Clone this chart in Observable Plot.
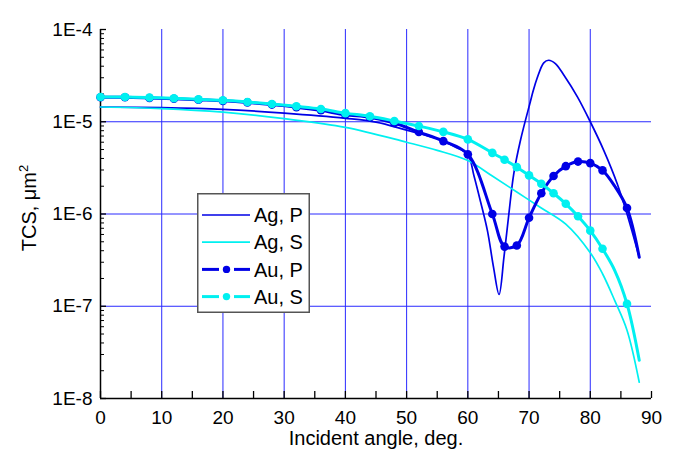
<!DOCTYPE html>
<html><head><meta charset="utf-8">
<script src="https://cdn.jsdelivr.net/npm/d3@7"></script>
<script src="https://cdn.jsdelivr.net/npm/@observablehq/plot@0.6"></script>
<style>
body{margin:0;background:#fff;}
#wrap{position:relative;width:675px;height:455px;font-family:"Liberation Sans",Arial,sans-serif;}
#legend{position:absolute;left:197px;top:193px;}
</style></head><body><div id="wrap"><div id="legend"></div></div>
<script>
// ---- data ----
const agPAngle = [0,10,20,30,40,45,50,55,58,60,61,62.1,63.2,64.2,65.1,65.9,66.7,67.5,68.6,70.2,70.7,71.3,72.4,73.2,74.3,75.7,77.9,80,82.2,84.4,86,88];
const agPTcs   = [1.445e-5,1.42e-5,1.36e-5,1.24e-5,1.09e-5,9.9e-6,8.1e-6,6.55e-6,5.3e-6,4.4e-6,2.6e-6,1.34e-6,6.6e-7,2.64e-7,1.34e-7,3.4e-7,1.0e-6,2.73e-6,6.3e-6,1.64e-5,2.19e-5,2.94e-5,4.35e-5,4.64e-5,4.27e-5,3.19e-5,1.86e-5,1.0e-5,4.9e-6,2.13e-6,1.0e-6,3.4e-7];
const agSAngle = [0,10,20,30,40,50,55,60,64,68,72,76,80,82,84,86,88];
const agSTcs   = [1.445e-5,1.39e-5,1.27e-5,1.08e-5,8.7e-6,6.0e-6,4.9e-6,3.8e-6,2.58e-6,1.73e-6,1.16e-6,7.75e-7,3.8e-7,2.25e-7,1.15e-7,5.5e-8,1.5e-8];
const auAngle  = [0,4,8,12,16,20,24,28,32,36,40,44,48,52,56,60,64,66,68,70,72,74,76,78,80,82,84,86,88];
const auPTcs   = [1.84e-5,1.84e-5,1.81e-5,1.775e-5,1.73e-5,1.685e-5,1.62e-5,1.535e-5,1.44e-5,1.33e-5,1.19e-5,1.12e-5,9.7e-6,7.73e-6,6.17e-6,4.43e-6,1.0e-6,4.43e-7,4.55e-7,9.1e-7,1.68e-6,2.58e-6,3.3e-6,3.7e-6,3.56e-6,2.97e-6,2.0e-6,1.16e-6,3.4e-7];
const auSTcs   = [1.855e-5,1.855e-5,1.83e-5,1.795e-5,1.75e-5,1.71e-5,1.64e-5,1.56e-5,1.47e-5,1.375e-5,1.24e-5,1.145e-5,1.02e-5,8.98e-6,7.77e-6,6.44e-6,4.6e-6,3.87e-6,3.22e-6,2.62e-6,2.13e-6,1.68e-6,1.29e-6,9.46e-7,6.6e-7,4.2e-7,2.44e-7,1.06e-7,2.6e-8];
const auNoMarker = [84,88];
const xTickLabels = [0,10,20,30,40,50,60,70,80,90];
const xMinorTicks = [5,15,25,35,45,55,65,75,85];
const xGrid = [10,20,30,40,50,60,70,80];
const yDecades = [1e-8,1e-7,1e-6,1e-5,1e-4];
const yGrid = [1e-7,1e-6,1e-5];
const seriesNames = ["Ag, P","Ag, S","Au, P","Au, S"];
const xLabel = "Incident angle, deg.";
const yLabelMain = "TCS, μm", yLabelSup = "2";

const blue = "#0000e6", cyan = "#00f0f0", gridColor = "#2a2aff";
const W = 675, H = 455, mL = 100, mR = 24, mT = 29, mB = 57;
const plotW = W - mL - mR, plotH = H - mT - mB;

const toRows = (xs, ys) => xs.map((x, i) => ({x, y: ys[i]}));
const agP = toRows(agPAngle, agPTcs);
const agS = toRows(agSAngle, agSTcs);
const auP = toRows(auAngle, auPTcs);
const auS = toRows(auAngle, auSTcs);
const hasMarker = d => !auNoMarker.includes(d.x);
const yMinor = [];
for (const dec of yDecades.slice(0, -1)) for (let k = 2; k <= 9; k++) yMinor.push(dec * k);

const chart = Plot.plot({
  width: W, height: H,
  marginLeft: mL, marginRight: mR, marginTop: mT, marginBottom: mB,
  style: {fontFamily: '"Liberation Sans", Arial, sans-serif', fontSize: "19px", background: "white", color: "black"},
  x: {domain: [0, 90]},
  y: {type: "log", domain: [1e-8, 1e-4]},
  marks: [
    Plot.ruleX(xGrid, {stroke: gridColor, strokeWidth: 1}),
    Plot.ruleY(yGrid, {stroke: gridColor, strokeWidth: 1}),
    Plot.tickX(xTickLabels.concat(xMinorTicks), {x: d => d, stroke: "black", strokeWidth: 1.3, insetTop: plotH - 7}),
    Plot.tickY(yDecades, {y: d => d, stroke: "black", strokeWidth: 1.3, insetRight: plotW - 6}),
    Plot.tickY(yMinor, {y: d => d, stroke: "black", strokeWidth: 1, insetRight: plotW - 4}),
    Plot.ruleX([0], {stroke: "black", strokeWidth: 1.5}),
    Plot.ruleY([1e-8], {stroke: "black", strokeWidth: 1.5}),
    Plot.axisX({ticks: xTickLabels, tickSize: 0, tickPadding: 12, label: null, fontSize: 19}),
    Plot.axisY({ticks: yDecades, tickSize: 0, tickPadding: 8, label: null, fontSize: 19,
      tickFormat: d => "1E" + Math.round(Math.log10(d))}),
    Plot.text([xLabel], {frameAnchor: "bottom", dy: 46, lineAnchor: "bottom", fontSize: 20}),
    Plot.text([yLabelMain + yLabelSup], {frameAnchor: "left", dx: -65, dy: -6, rotate: -90, lineAnchor: "bottom", textAnchor: "middle", fontSize: 20, className: "ylab"}),
    Plot.line(agP, {x: "x", y: "y", stroke: blue, strokeWidth: 1.7, curve: "catmull-rom"}),
    Plot.line(agS, {x: "x", y: "y", stroke: cyan, strokeWidth: 1.7, curve: "catmull-rom"}),
    Plot.line(auP, {x: "x", y: "y", stroke: blue, strokeWidth: 3, curve: "catmull-rom"}),
    Plot.dot(auP.filter(hasMarker), {x: "x", y: "y", r: 4.3, fill: blue}),
    Plot.line(auS, {x: "x", y: "y", stroke: cyan, strokeWidth: 3, curve: "catmull-rom"}),
    Plot.dot(auS.filter(hasMarker), {x: "x", y: "y", r: 4.3, fill: cyan})
  ]
});
const wrap = document.getElementById("wrap");
wrap.insertBefore(chart, wrap.firstChild);

// superscript for the unit in the y label
chart.querySelectorAll("text").forEach(t => {
  if (t.textContent === yLabelMain + yLabelSup) {
    t.textContent = yLabelMain;
    const sup = document.createElementNS("http://www.w3.org/2000/svg", "tspan");
    sup.setAttribute("dy", "-0.55em");
    sup.setAttribute("font-size", "13");
    sup.textContent = yLabelSup;
    t.appendChild(sup);
  }
});

// legend inside the plot area
const legendStyle = [
  {color: blue, w: 1.7, marker: false},
  {color: cyan, w: 1.7, marker: false},
  {color: blue, w: 3, marker: true},
  {color: cyan, w: 3, marker: true}
];
const lw = 113, lh = 120;
let s = `<svg width="${lw}" height="${lh}" xmlns="http://www.w3.org/2000/svg" style="display:block">`;
s += `<rect x="0.75" y="0.75" width="${lw-1.5}" height="${lh-1.5}" fill="white" stroke="#555" stroke-width="1.5"/>`;
seriesNames.forEach((name, i) => {
  const cy = 22 + i * 27.2;
  const st = legendStyle[i];
  if (st.marker) {
    s += `<line x1="5" x2="22" y1="${cy}" y2="${cy}" stroke="${st.color}" stroke-width="${st.w}"/>`;
    s += `<line x1="37" x2="53" y1="${cy}" y2="${cy}" stroke="${st.color}" stroke-width="${st.w}"/>`;
    s += `<circle cx="29.5" cy="${cy}" r="3.7" fill="${st.color}"/>`;
  } else {
    s += `<line x1="5" x2="53" y1="${cy}" y2="${cy}" stroke="${st.color}" stroke-width="${st.w}"/>`;
  }
  s += `<text x="57" y="${cy}" dy="0.36em" font-size="20" font-family="Liberation Sans, Arial, sans-serif" fill="black">${name}</text>`;
});
s += `</svg>`;
document.getElementById("legend").innerHTML = s;
</script>
</body></html>
